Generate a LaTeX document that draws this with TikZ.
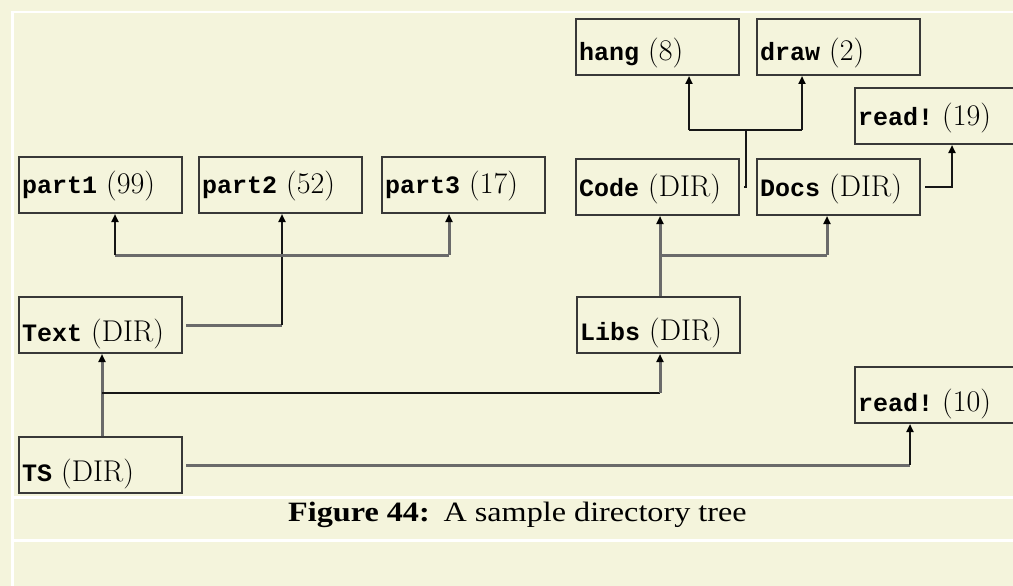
\documentclass[tikz,border=0pt]{standalone}
\usepackage{fontspec}
\newfontfamily\monob{Liberation Mono}
\newfontfamily\capfont{Liberation Serif}
\usetikzlibrary{arrows.meta,calc}
\definecolor{bgc}{HTML}{F4F4DC}
\definecolor{boxc}{HTML}{383838}
\definecolor{kc}{HTML}{161616}
\definecolor{gc}{HTML}{6A6A6A}
\tikzset{
  fbox/.style={draw=boxc, line width=2pt, minimum width=163pt, minimum height=56pt, inner sep=0pt, anchor=north west},
  lbl/.style={anchor=base west, inner sep=0pt, font=\fontsize{25}{25}\selectfont},
  kline/.style={draw=kc, line width=2.5pt},
  gline/.style={draw=gc, line width=3pt},
  arr/.style={-{Triangle[width=7pt,length=8pt,color=black]}},
}
\newcommand{\nm}[2]{{\monob\bfseries #1}\hspace{9pt}{\fontsize{30}{30}\selectfont #2}}
\begin{document}
\begin{tikzpicture}[x=1pt,y=-1pt]
\useasboundingbox (0,0) rectangle (1013,586);
\clip (0,0) rectangle (1013,586);
\fill[bgc] (0,0) rectangle (1013,586);
\fill[white] (11,11) rectangle (13.5,586);
\fill[white] (11,11) rectangle (1013,13.5);
\fill[white] (13,496) rectangle (1013,498.5);
\fill[white] (13,539) rectangle (1013,541.5);

% boxes
\node[fbox] (part1) at (18,156) {};
\node[fbox] (part2) at (198,156) {};
\node[fbox] (part3) at (381,156) {};
\node[fbox] (hang) at (575,18) {};
\node[fbox] (drawn) at (756,18) {};
\node[fbox] (read19) at (854,87) {};
\node[fbox] (Code) at (575,158) {};
\node[fbox] (Docs) at (756,158) {};
\node[fbox] (Text) at (18,296) {};
\node[fbox] (Libs) at (576,296) {};
\node[fbox] (TS) at (18,436) {};
\node[fbox] (read10) at (854,366) {};

% labels
\node[lbl] (part1t) at ([shift={(4,37)}]part1.north west) {\nm{part1}{(99)}};
\node[lbl] (part2t) at ([shift={(4,37)}]part2.north west) {\nm{part2}{(52)}};
\node[lbl] (part3t) at ([shift={(4,37)}]part3.north west) {\nm{part3}{(17)}};
\node[lbl] (hangt) at ([shift={(4,43)}]hang.north west) {\nm{hang}{(8)}};
\node[lbl] (drawt) at ([shift={(4,43)}]drawn.north west) {\nm{draw}{(2)}};
\node[lbl] (read19t) at ([shift={(4,38)}]read19.north west) {\nm{read!}{(19)}};
\node[lbl] (Codet) at ([shift={(4,38)}]Code.north west) {\nm{Code}{(DIR)}};
\node[lbl] (Docst) at ([shift={(4,38)}]Docs.north west) {\nm{Docs}{(DIR)}};
\node[lbl] (Textt) at ([shift={(4,45)}]Text.north west) {\nm{Text}{(DIR)}};
\node[lbl] (Libst) at ([shift={(4,44)}]Libs.north west) {\nm{Libs}{(DIR)}};
\node[lbl] (TSt) at ([shift={(4,45)}]TS.north west) {\nm{TS}{(DIR)}};
\node[lbl] (read10t) at ([shift={(4,45)}]read10.north west) {\nm{read!}{(10)}};

% junction coordinates
\coordinate (c1) at (282,323);
\coordinate (b1) at (115,255);
\coordinate (b3) at (449,255);
\coordinate (l1) at (660,255);
\coordinate (l2) at (827,255);
\coordinate (t1) at (102,393);
\coordinate (t2) at (660,393);
\coordinate (r1) at (910,463);
\coordinate (k1) at (746,184);
\coordinate (k2) at (746,130);
\coordinate (h1) at (689,130);
\coordinate (d1) at (802,130);
\coordinate (q1) at (952,184);

% Text -> part1..3
\draw[gline] ([xshift=3pt]Text.east) -- (Text.east -| c1);
\draw[kline,arr] (Text.east -| c1) -- (c1 |- part2.south);
\draw[gline] (b1) -- (b3);
\draw[kline,arr] (b1) -- (b1 |- part1.south);
\draw[gline,arr] (b3) -- (b3 |- part3.south);

% Libs -> Code, Docs
\draw[gline] (l1 |- Libs.north) -- (l1) -- (l2);
\draw[gline,arr] (l1) -- (l1 |- Code.south);
\draw[gline,arr] (l2) -- (l2 |- Docs.south);

% TS -> Text, Libs, read!(10)
\draw[gline,arr] (t1 |- TS.north) -- (t1 |- Text.south);
\draw[kline] (t1) -- (t2);
\draw[gline,arr] (t2) -- (t2 |- Libs.south);
\draw[gline] ([xshift=3pt]TS.east) -- (TS.east -| r1);
\draw[kline,arr] (TS.east -| r1) -- (r1 |- read10.south);

% Code -> hang, draw
\draw[kline] ([xshift=4pt]Code.east) -- (Code.east -| k1) -- (k2);
\draw[kline] (h1) -- (d1);
\draw[kline,arr] (h1) -- (h1 |- hang.south);
\draw[kline,arr] (d1) -- (d1 |- drawn.south);

% Docs -> read!(19)
\draw[kline,arr] ([xshift=4pt]Docs.east) -- (Docs.east -| q1) -- (q1 |- read19.south);

% caption
\node[anchor=base west, inner sep=0pt, font=\capfont\fontsize{28}{28}\selectfont] (cap) at (288,521) {\scalebox{1.15}[1]{\textbf{Figure 44:}\hspace{12pt}A sample directory tree}};
\end{tikzpicture}
\end{document}
